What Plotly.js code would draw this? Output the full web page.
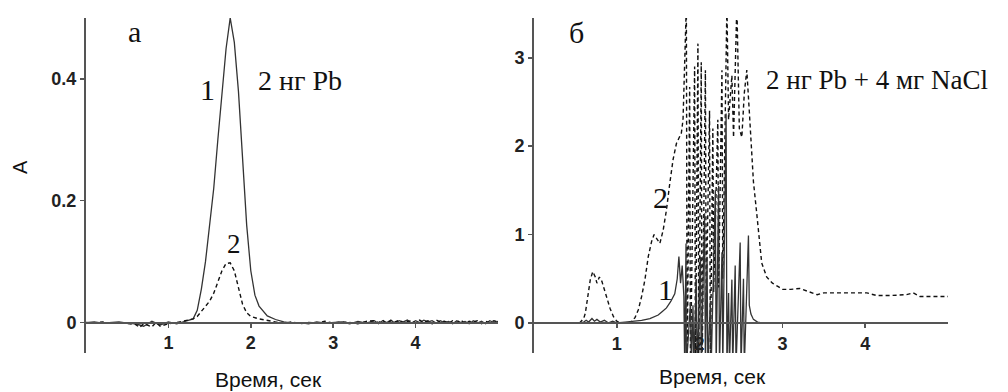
<!DOCTYPE html>
<html>
<head>
<meta charset="utf-8">
<script src="https://cdn.plot.ly/plotly-3.0.1.min.js"></script>
<style>html,body{margin:0;padding:0;background:#fff;}#chart{width:1008px;height:392px;}</style>
</head>
<body>
<div id="chart"></div>
<script>
// ---- Panel "а": 2 нг Pb ----
const leftX1 = [0,0.1,0.2,0.3,0.4,0.5,0.6,0.7,0.8,0.9,1.0,1.1,1.2,1.3,1.35,1.4,1.45,1.5,1.55,1.6,1.65,1.7,1.75,1.8,1.85,1.9,1.95,2.0,2.05,2.1,2.15,2.2,2.3,2.4,2.5,2.6,2.7,2.8,2.9,3.0,3.1,3.2,3.3,3.4,3.5,3.55,3.6,3.65,3.7,3.75,3.8,3.85,3.9,3.95,4.0,4.05,4.1,4.15,4.2,4.25,4.3,4.35,4.4,4.45,4.5,4.55,4.6,4.65,4.7,4.75,4.8,4.85,4.9,4.95,5.0];
const leftY1 = [0,0.001,-0.001,0,0.001,-0.001,-0.002,-0.006,0.002,-0.004,0.001,-0.002,0.002,0.006,0.02,0.055,0.10,0.16,0.22,0.30,0.38,0.45,0.50,0.46,0.38,0.27,0.16,0.085,0.045,0.027,0.018,0.011,0.005,0.001,-0.001,0,-0.002,0.001,-0.001,0,0.001,-0.002,0.002,-0.001,0.003,-0.002,0.003,0,0.004,-0.001,0.003,0.001,0.004,-0.001,0.003,0,0.004,0.001,0.003,-0.001,0.003,0,0.002,-0.002,0.003,0,0.002,-0.002,0.003,-0.001,0.002,-0.002,0.003,0,0.002];
const leftX2 = [0,0.1,0.2,0.3,0.4,0.5,0.6,0.65,0.7,0.8,0.85,0.9,1.0,1.1,1.2,1.3,1.35,1.4,1.45,1.5,1.55,1.6,1.65,1.7,1.75,1.8,1.85,1.9,1.95,2.0,2.1,2.2,2.3,2.4,2.5,2.6,2.7,2.8,2.9,3.0,3.1,3.2,3.3,3.4,3.5,3.55,3.6,3.65,3.7,3.75,3.8,3.85,3.9,3.95,4.0,4.05,4.1,4.15,4.2,4.25,4.3,4.35,4.4,4.45,4.5,4.55,4.6,4.65,4.7,4.75,4.8,4.85,4.9,4.95,5.0];
const leftY2 = [0,-0.001,0.001,-0.001,0,-0.002,-0.003,-0.008,-0.002,-0.007,0,-0.006,-0.002,0,0.003,0.006,0.01,0.018,0.026,0.035,0.048,0.067,0.085,0.097,0.098,0.085,0.055,0.03,0.016,0.01,0.006,0.003,0.001,-0.001,0.001,-0.002,0,-0.001,0.002,-0.001,0.001,0,-0.002,0.002,0.003,0,0.004,-0.002,0.003,0.001,0.004,-0.001,0.002,0.003,-0.001,0.004,0,0.003,-0.002,0.004,0.001,0.002,-0.001,0.003,0,0.004,-0.002,0.002,0.001,0.003,-0.002,0.002,0,0.003,0.001];

// ---- Panel "б": 2 нг Pb + 4 мг NaCl ----
const rightX1 = [0.55,0.6,0.63,0.66,0.7,0.73,0.76,0.8,0.85,0.9,0.95,1.0,1.1,1.2,1.3,1.4,1.5,1.55,1.6,1.65,1.7,1.73,1.75,1.77,1.79,1.81,1.82,1.836,1.84,1.89,1.90,1.92,1.93,1.96,1.97,2.01,2.02,2.06,2.07,2.09,2.10,2.13,2.14,2.19,2.20,2.23,2.24,2.27,2.28,2.32,2.33,2.35,2.36,2.39,2.40,2.43,2.44,2.49,2.50,2.53,2.54,2.59,2.60,2.62,2.65,2.70,2.75];
const rightY1 = [0,0.01,0.03,0.01,0.05,0.02,0.04,0.01,0.03,0,0.02,0,0.01,0.02,0.03,0.05,0.09,0.13,0.17,0.24,0.33,0.5,0.75,0.45,0.65,0.3,-0.5,0.9,-0.5,0.23,-0.5,0.2,-0.5,0.5,-0.5,0.75,-0.5,1.24,-0.5,0.75,-0.5,0.25,-0.5,1.5,-0.5,1.55,-0.5,0.8,-0.5,2.37,-0.5,0.34,-0.5,0.49,-0.5,0.65,-0.5,0.91,-0.5,0.5,-0.5,0.99,0.2,0.1,0.04,0.01,0];
const rightX2 = [0.55,0.6,0.62,0.65,0.68,0.71,0.74,0.76,0.79,0.82,0.85,0.88,0.92,0.96,1.0,1.04,1.16,1.22,1.26,1.3,1.34,1.38,1.42,1.45,1.48,1.52,1.56,1.6,1.64,1.68,1.72,1.78,1.80,1.84,1.85,1.88,1.89,1.94,1.95,1.98,1.99,2.02,2.03,2.07,2.08,2.12,2.13,2.16,2.17,2.22,2.23,2.27,2.28,2.33,2.35,2.39,2.41,2.45,2.48,2.51,2.54,2.57,2.60,2.63,2.65,2.69,2.72,2.75,2.81,2.88,2.95,3.0,3.1,3.21,3.3,3.42,3.5,3.7,3.9,4.02,4.14,4.3,4.5,4.58,4.66,4.8,5.0];
const rightY2 = [0,0.05,0.11,0.3,0.49,0.58,0.52,0.45,0.52,0.47,0.38,0.28,0.16,0.07,0.02,0,0,0.06,0.15,0.3,0.49,0.75,0.92,1.0,0.95,0.9,1.05,1.28,1.58,1.85,2.03,2.15,2.3,3.6,-0.5,2.67,-0.5,2.9,-0.5,3.16,-0.5,2.95,-0.5,2.86,0.2,2.4,-0.5,2.2,0.35,2.3,0.4,2.86,0.5,3.6,2.3,2.8,2.1,3.6,2.2,2.1,2.6,2.86,2.4,1.84,1.6,1.24,0.95,0.68,0.52,0.45,0.41,0.38,0.38,0.39,0.36,0.32,0.34,0.34,0.34,0.34,0.31,0.31,0.32,0.34,0.3,0.3,0.3];

const xTickVals = [1,2,3,4];
const xTickText = ["1","2","3","4"];
const leftYTickVals = [0,0.2,0.4];
const leftYTickText = ["0","0.2","0.4"];
const rightYTickVals = [0,1,2,3];
const rightYTickText = ["0","1","2","3"];

const xRange = [0,5];
const leftYRange = [-0.05,0.5];
const rightYRange = [-0.34,3.45];

const W = 1008, H = 392;
const yDom = [1 - 353/H, 1 - 18/H];
const xDomL = [86/W, 498/W];
const xDomR = [534/W, 948/W];
function zeroPos(r){ return yDom[0] + (0 - r[0])/(r[1]-r[0])*(yDom[1]-yDom[0]); }

const solid = {color:'#333', width:1.3};
const dashed = {color:'#111', width:1.4, dash:'4px,3px'};

const traces = [
  {x:leftX1, y:leftY1, xaxis:'x', yaxis:'y', mode:'lines', line:solid, hoverinfo:'skip'},
  {x:leftX2, y:leftY2, xaxis:'x', yaxis:'y', mode:'lines', line:dashed, hoverinfo:'skip'},
  {x:rightX2, y:rightY2, xaxis:'x2', yaxis:'y2', mode:'lines', line:dashed, hoverinfo:'skip'},
  {x:rightX1, y:rightY1, xaxis:'x2', yaxis:'y2', mode:'lines', line:solid, hoverinfo:'skip'}
];

const tickFont = {family:'Liberation Sans, Arial, sans-serif', size:18, color:'#222', weight:'bold'};
function xAxis(dom, yr){
  return {domain:dom, range:xRange, anchor:'free', position:zeroPos(yr),
    showline:true, linecolor:'#555', linewidth:2, ticks:'outside', ticklen:4, tickwidth:1.5, tickcolor:'#555',
    tickvals:xTickVals, ticktext:xTickText, tickfont:tickFont, showgrid:false, zeroline:false, fixedrange:true};
}
function yAxis(yr, tv, tt, anchor){
  return {domain:yDom, range:yr, anchor:anchor, showline:true, linecolor:'#555', linewidth:2,
    ticks:'outside', ticklen:4, tickwidth:1.5, tickcolor:'#555', tickvals:tv, ticktext:tt, tickfont:tickFont,
    showgrid:false, zeroline:false, fixedrange:true};
}

const serif = 'Liberation Serif, Times New Roman, serif';
const sans = 'Liberation Sans, Arial, sans-serif';
function ann(text, px, py, size, family, xanchor, angle){
  return {text:text, xref:'paper', yref:'paper', x:px/W, y:1-py/H, xanchor:xanchor||'center', yanchor:'middle',
    showarrow:false, textangle:angle||0, font:{family:family, size:size, color:'#111'}};
}

const layout = {
  width:W, height:H, margin:{l:0,r:0,t:0,b:0},
  paper_bgcolor:'#fff', plot_bgcolor:'#fff', showlegend:false,
  xaxis: xAxis(xDomL, leftYRange),
  yaxis: yAxis(leftYRange, leftYTickVals, leftYTickText, 'x'),
  xaxis2: xAxis(xDomR, rightYRange),
  yaxis2: yAxis(rightYRange, rightYTickVals, rightYTickText, 'x2'),
  annotations:[
    ann('а', 134, 32, 30, serif),
    ann('2 нг Pb', 256, 80, 28, serif, 'left'),
    ann('1', 207, 89, 30, serif),
    ann('2', 234, 244, 27, serif),
    ann('б', 576, 33, 30, serif),
    ann('2 нг Pb + 4 мг NaCl', 764, 80, 27, serif, 'left'),
    ann('2', 660, 198, 30, serif),
    ann('1', 665, 289, 30, serif),
    ann('A', 20, 167, 20, sans, 'center', -90),
    ann('Время, сек', 268, 379, 21, sans),
    ann('Время, сек', 712, 376, 21, sans)
  ]
};

Plotly.newPlot('chart', traces, layout, {displayModeBar:false, staticPlot:true});
</script>
</body>
</html>
